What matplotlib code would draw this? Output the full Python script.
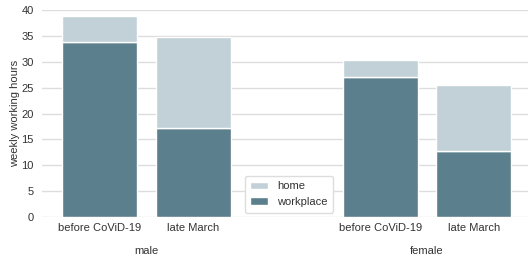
import matplotlib
matplotlib.use("Agg")
import matplotlib.pyplot as plt

groups = ["male", "female"]
periods = ["before CoViD-19", "late March"]
workplace = [33.8, 17.2, 27.0, 12.8]
home = [5.0, 17.6, 3.3, 12.7]
positions = [0, 1, 3, 4]
tick_labels = ["before CoViD-19", "late March", "before CoViD-19", "late March"]

dark = "#5b7f8c"
light = "#c2d1d8"

plt.rcParams['font.family'] = ['Liberation Sans', 'DejaVu Sans']
fig = plt.figure(figsize=(5.3, 2.56), dpi=100)
ax = fig.add_axes([0.079, 0.152, 0.917, 0.809])

ax.bar(positions, workplace, width=0.8, color=dark, edgecolor="white", linewidth=1, label="workplace", zorder=3)
ax.bar(positions, home, bottom=workplace, width=0.8, color=light, edgecolor="white", linewidth=1, label="home", zorder=3)

ax.set_xlim(-0.62, 4.58)
ax.set_ylim(0, 40)
ax.set_yticks(range(0, 41, 5))
ax.set_xticks(positions)
ax.set_xticklabels(tick_labels, fontsize=8, color="#333333")
ax.tick_params(axis="y", labelsize=8, labelcolor="#333333", length=0, pad=6)
ax.tick_params(axis="x", length=0, pad=4)
ax.grid(axis="y", color="#dddddd", linewidth=1, zorder=0)
ax.set_axisbelow(True)
for s in ax.spines.values():
    s.set_visible(False)
ax.set_ylabel("weekly working hours", fontsize=8, color="#333333", labelpad=1)

for gi, g in enumerate(groups):
    cx = (positions[2 * gi] + positions[2 * gi + 1]) / 2
    ax.text(cx, -0.14, g, transform=ax.get_xaxis_transform(), ha="center", va="top", fontsize=8, color="#333333")

h, l = ax.get_legend_handles_labels()
leg = ax.legend(h[::-1], l[::-1], loc="lower center", bbox_to_anchor=(0.508, -0.005), fontsize=8,
                frameon=True, edgecolor="#dddddd", framealpha=1, handlelength=1.6, borderpad=0.5)
for t in leg.get_texts():
    t.set_color("#333333")

fig.savefig("out.png", dpi=100)
